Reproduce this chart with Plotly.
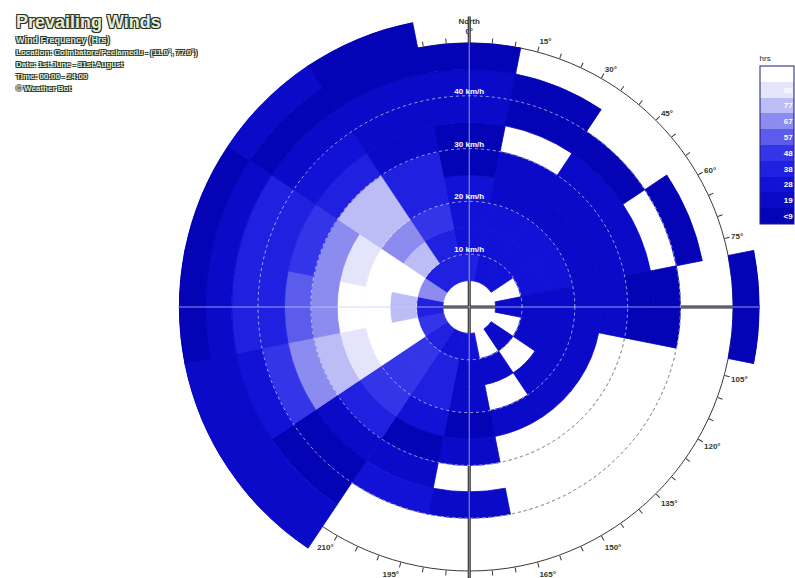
import plotly.graph_objects as go

# Wind-rose grid: 16 compass directions x 5 km/h speed bins (hours per cell)
directions = ["N", "NNE", "NE", "ENE", "E", "ESE", "SE", "SSE",
              "S", "SSW", "SW", "WSW", "W", "WNW", "NW", "NNW"]
dir_angles = [0, 22.5, 45, 67.5, 90, 112.5, 135, 157.5,
              180, 202.5, 225, 247.5, 270, 292.5, 315, 337.5]
sector_width = 22.5
speed_lo = [5, 10, 15, 20, 25, 30, 35, 40, 45, 50]
bin_width = 5

# hours per speed bin (5-10, 10-15, ..., 50-55); None = no hours recorded
hrs_N   = [30, 28, 24, 20, 8, 6, 14, 14, 6, None]
hrs_NNE = [26, 24, 22, 18, 12, None, 8, 9, None, None]
hrs_NE  = [22, 24, 20, 16, 12, 10, 6, None, None, None]
hrs_ENE = [None, 20, 20, 15, 12, 10, None, 8, None, None]
hrs_E   = [18, 16, 14, 12, 10, 9, 8, None, None, 6]
hrs_ESE = [None, 16, 14, 12, None, None, None, None, None, None]
hrs_SE  = [10, None, 14, 12, None, None, None, None, None, None]
hrs_SSE = [None, 12, None, 10, None, None, None, None, None, None]
hrs_S   = [22, 18, 12, 8, 12, None, 16, None, None, None]
hrs_SSW = [28, 30, 32, 26, 6, 18, 20, None, None, None]
hrs_SW  = [38, 40, 42, 44, 34, 12, 8, 8, 10, 12]
hrs_WSW = [40, 88, 90, 82, 70, 58, 40, 26, 16, 18]
hrs_W   = [35, 75, 92, 88, 64, 50, 38, 32, 10, 8]
hrs_WNW = [62, 92, 94, 78, 62, 46, 36, 30, 12, 8]
hrs_NW  = [36, 70, 58, 76, 72, 36, 24, 18, 8, 10]
hrs_NNW = [30, 34, 40, 36, 30, 18, 14, 12, 6, 8]

hours_by_dir = [hrs_N, hrs_NNE, hrs_NE, hrs_ENE, hrs_E, hrs_ESE, hrs_SE, hrs_SSE,
                hrs_S, hrs_SSW, hrs_SW, hrs_WSW, hrs_W, hrs_WNW, hrs_NW, hrs_NNW]

# Stepped colour legend
hrs_max = 96
legend_labels = ["<9", "19", "28", "38", "48", "57", "67", "77", "86", "96"]
legend_colors = ["#0404b6", "#0a0ac8", "#1212d6", "#2020e0", "#3434e8",
                 "#5c5cec", "#8c8cf0", "#bcbcf6", "#e4e4fb", "#ffffff"]

radial_ticks = [10, 20, 30, 40]
radial_text = ["10 km/h", "20 km/h", "30 km/h", "40 km/h"]
ring_speed = 50      # speed of the labelled compass ring
outer_speed = 55     # outermost speed bin edge

angle_ticks = list(range(0, 360, 5))
cardinal_text = {0: "North<br>0°", 90: "E", 180: "South", 270: "W"}
cross_angles = [0, 90, 180, 270]

title_text = "Prevailing Winds"
title_lines = [
    "Wind Frequency (Hrs)",
    "Location: Coimbatore/Peelamedu - (11.0°, 77.0°)",
    "Date: 1st June - 31st August",
    "Time: 00:00 - 24:00",
    "© Weather Bot",
]

# ---- build the bar cells ----
theta, base, length, value = [], [], [], []
for ang, row in zip(dir_angles, hours_by_dir):
    for lo, h in zip(speed_lo, row):
        if h is None:
            continue
        theta.append(ang)
        base.append(lo)
        length.append(bin_width)
        value.append(h)

n = len(legend_colors)
colorscale = []
for i, c in enumerate(legend_colors):
    colorscale.append([i / n, c])
    colorscale.append([(i + 1) / n, c])
step = hrs_max / n
legend_centers = [step * (i + 0.5) for i in range(n)]

angle_text = []
for a in angle_ticks:
    if a in cardinal_text:
        angle_text.append(cardinal_text[a])
    elif a % 15 == 0:
        angle_text.append(f"{a}°")
    else:
        angle_text.append("")

# Figure is a little taller than the view so the outer bins fit below the centre.
W, H = 795, 600
VIEW_H = 578
cx, cy = 471, 307
px_per_kmh = 5.3
R_ring = ring_speed * px_per_kmh
R_outer = outer_speed * px_per_kmh


def domain(radius):
    return dict(x=[(cx - radius) / W, (cx + radius) / W],
                y=[(H - cy - radius) / H, (H - cy + radius) / H])


def polar_frame(radius, rng, **kw):
    d = dict(domain=domain(radius), bgcolor="rgba(0,0,0,0)")
    ang = dict(rotation=90, direction="clockwise", tickmode="array",
               showticklabels=False, ticks="", showline=False, showgrid=False)
    rad = dict(range=[0, rng], tickmode="array", tickvals=radial_ticks,
               showticklabels=False, ticks="", showline=False, showgrid=False)
    ang.update(kw.pop("angularaxis", {}))
    rad.update(kw.pop("radialaxis", {}))
    d.update(kw)
    d["angularaxis"] = ang
    d["radialaxis"] = rad
    return d


fig = go.Figure()

# polar: dark grid under everything
fig.add_trace(go.Scatterpolar(r=[], theta=[], mode="lines", subplot="polar",
                              hoverinfo="skip", showlegend=False))
# polar2: compass ring with ticks and labels
fig.add_trace(go.Scatterpolar(r=[], theta=[], mode="lines", subplot="polar2",
                              hoverinfo="skip", showlegend=False))
# polar3: frequency cells
fig.add_trace(go.Barpolar(
    theta=theta, base=base, r=length, width=sector_width,
    marker=dict(
        color=value, colorscale=colorscale, cmin=0, cmax=hrs_max,
        line=dict(color=value, colorscale=colorscale, cmin=0, cmax=hrs_max, width=0.8),
        colorbar=dict(
            title=dict(text="hrs", side="top", font=dict(size=8, color="#222244", family="Liberation Sans")),
            x=763 / W, xanchor="left", xpad=0,
            y=1 - 52 / H, yanchor="top", ypad=0,
            len=172, lenmode="pixels", thickness=34, thicknessmode="pixels",
            tickmode="array", tickvals=legend_centers, ticktext=legend_labels,
            ticklabelposition="inside", ticks="",
            tickfont=dict(size=8, color="white", family="Liberation Sans", weight="bold"),
            outlinecolor="#1c1c70", outlinewidth=1, bgcolor="white",
        ),
    ),
    hoverinfo="skip", subplot="polar3", showlegend=False,
))
# polar4: light grid over the cells plus speed labels
fig.add_trace(go.Scatterpolar(
    theta=[0] * len(radial_ticks), r=radial_ticks, text=radial_text,
    mode="text", textposition="top center",
    textfont=dict(size=8, color="white", family="Liberation Sans", weight="bold"),
    cliponaxis=False, hoverinfo="skip", subplot="polar4", showlegend=False,
))

fig.update_layout(
    width=W, height=H,
    margin=dict(l=0, r=0, t=0, b=0),
    paper_bgcolor="white", plot_bgcolor="white",
    showlegend=False,
    polar=polar_frame(
        R_outer, outer_speed,
        angularaxis=dict(tickvals=cross_angles, showgrid=True,
                         gridcolor="#202020", gridwidth=2.6),
        radialaxis=dict(showgrid=True, gridcolor="#202020", gridwidth=1.2, griddash="dot"),
    ),
    polar2=polar_frame(
        R_ring, ring_speed,
        angularaxis=dict(tickvals=angle_ticks, ticktext=angle_text, showticklabels=True,
                         ticks="outside", ticklen=5, tickwidth=1, tickcolor="#3a3a3a",
                         showline=True, linecolor="#3a3a3a", linewidth=1,
                         tickfont=dict(size=8, color="#2c3a2c", family="Liberation Sans",
                                       weight="bold")),
    ),
    polar3=polar_frame(R_outer, outer_speed, barmode="overlay", bargap=0),
    polar4=polar_frame(
        R_outer, outer_speed,
        angularaxis=dict(tickvals=cross_angles, showgrid=True,
                         gridcolor="rgba(200,200,255,0.75)", gridwidth=1.3),
        radialaxis=dict(showgrid=True, gridcolor="rgba(255,255,255,0.6)",
                        gridwidth=1.1, griddash="dot"),
    ),
)

outline = ("1px 1px 0 #26331f, -1px -1px 0 #26331f, "
           "1px -1px 0 #26331f, -1px 1px 0 #26331f")
fig.add_annotation(text=title_text, xref="paper", yref="paper",
                   x=14 / W, y=1 - 22 / H, xanchor="left", yanchor="middle", showarrow=False,
                   font=dict(size=18, color="#e4ecda", family="Liberation Sans",
                             weight="bold", shadow=outline))
for i, line in enumerate(title_lines):
    fig.add_annotation(text=line, xref="paper", yref="paper",
                       x=14 / W, y=1 - (40 + 12.2 * i) / H, xanchor="left", yanchor="middle",
                       showarrow=False,
                       font=dict(size=9 if i == 0 else 8, color="#dfe8d4",
                                 family="Liberation Sans", weight="bold", shadow=outline))

# keep the page at the view size; the lowest strip of the figure is simply cut off
fig.write_html("out.html", post_script=(
    "document.documentElement.style.overflow='hidden';"
    "document.body.style.overflow='hidden';"
    f"document.body.style.height='{VIEW_H}px';"
))
